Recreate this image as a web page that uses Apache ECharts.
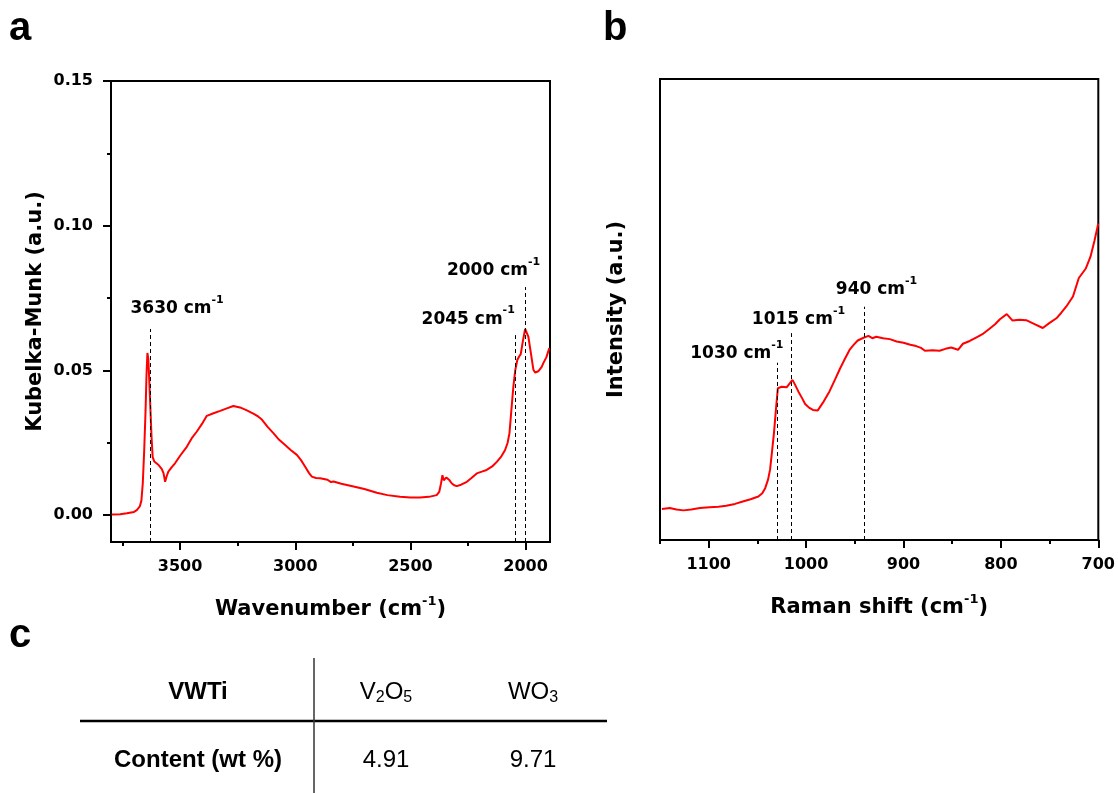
<!DOCTYPE html>
<html><head><meta charset="utf-8">
<script src="https://cdn.jsdelivr.net/npm/echarts@6/dist/echarts.min.js"></script>
<style>html,body{margin:0;padding:0;background:#fff}#c{width:1118px;height:793px}</style>
</head><body><div id="c"></div>
<script>
// ---------- data ----------
// Panel a: DRIFTS Kubelka-Munk spectrum [wavenumber (cm-1), KM (a.u.)]
const kmSpectrum = [
 [3797,0.0002],[3760,0.0003],[3731,0.0006],[3700,0.0011],[3688,0.0017],[3675,0.003],[3668,0.005],
 [3662,0.011],[3656,0.022],[3650,0.036],[3646,0.048],[3642,0.056],[3638,0.054],[3634,0.047],
 [3629,0.037],[3624,0.027],[3619,0.020],[3612,0.0185],[3604,0.019],[3596,0.0175],[3588,0.0178],
 [3580,0.016],[3572,0.0145],[3565,0.0115],[3558,0.0135],[3551,0.015],[3537,0.0165],[3522,0.0179],
 [3500,0.0205],[3471,0.0236],[3450,0.0265],[3428,0.0288],[3405,0.0315],[3384,0.0343],[3355,0.0352],
 [3326,0.036],[3300,0.0368],[3269,0.0377],[3240,0.0372],[3210,0.0362],[3180,0.0350],[3160,0.0340],
 [3145,0.0330],[3120,0.0305],[3095,0.0283],[3070,0.026],[3044,0.0242],[3020,0.0225],[2993,0.0208],
 [2975,0.019],[2957,0.0167],[2940,0.0145],[2928,0.0133],[2910,0.0128],[2892,0.0127],[2860,0.0122],
 [2845,0.0114],[2834,0.0116],[2800,0.0108],[2747,0.0099],[2700,0.009],[2646,0.0077],[2600,0.0069],
 [2545,0.0063],[2500,0.0061],[2458,0.0061],[2420,0.0063],[2386,0.0069],[2375,0.0080],[2367,0.0110],
 [2361,0.0138],[2355,0.0120],[2350,0.0115],[2344,0.0130],[2338,0.0135],[2330,0.0120],[2321,0.0110],
 [2310,0.0103],[2299,0.0100],[2280,0.0105],[2255,0.0115],[2235,0.0128],[2212,0.0144],[2190,0.0150],
 [2169,0.0156],[2145,0.0168],[2125,0.0184],[2105,0.0203],[2089,0.0225],[2078,0.0250],[2070,0.0283],
 [2062,0.0360],[2053,0.0444],[2045,0.0500],[2036,0.0536],[2028,0.0548],[2021,0.0556],[2012,0.0600],
 [2002,0.0643],[1995,0.0638],[1988,0.0617],[1977,0.0560],[1966,0.0502],[1958,0.0492],[1952,0.0490],
 [1945,0.0497],[1937,0.0496],[1930,0.0512],[1923,0.0525],[1910,0.0545],[1897,0.0577]
];
// Panel b: Raman spectrum [Raman shift (cm-1), intensity (a.u.)]
const ramanSpectrum = [
 [1148,7.1],[1140,7.3],[1133,7.0],[1126,6.8],[1118,7.0],[1109,7.3],[1099,7.5],[1090,7.6],[1082,7.8],
 [1073,8.2],[1065,8.7],[1057,9.2],[1049,9.8],[1045,10.5],[1042,11.6],[1039,13.5],[1037,15.6],
 [1035,19.5],[1033,23.5],[1031,28.5],[1029,33.2],[1025,33.5],[1020,33.4],[1017,34.2],[1014,35.0],
 [1011,33.8],[1008,32.5],[1004,31.0],[1001,29.8],[997,29.0],[993,28.5],[988,28.4],[982,30.3],
 [976,32.5],[970,35.2],[965,37.5],[960,39.6],[955,41.6],[951,42.6],[947,43.5],[941,44.1],[936,44.5],
 [932,44.0],[928,44.3],[921,44.0],[914,43.8],[907,43.3],[900,43.0],[893,42.6],[887,42.3],[882,41.9],
 [878,41.3],[870,41.4],[863,41.3],[857,41.7],[851,42.0],[844,41.5],[839,42.8],[832,43.4],[825,44.2],
 [818,45.0],[812,46.0],[806,47.0],[801,48.1],[794,49.2],[788,47.8],[781,48.0],[774,47.9],[766,47.1],
 [757,46.2],[750,47.3],[743,48.3],[738,49.5],[733,50.8],[726,53.0],[720,57.0],[713,59.0],[708,61.6],
 [704,65.0],[700,68.8]
];
const kmTicks = [0, 0.05, 0.10, 0.15];
const kmMinorTicks = [0.025, 0.075, 0.125];
const wavenumberTicks = [2000, 2500, 3000, 3500];
const wavenumberMinorTicks = [2250, 2750, 3250, 3750];
const ramanTicks = [700, 800, 900, 1000, 1100];
const ramanMinorTicks = [750, 850, 950, 1050, 1150];
const kmPeaks = [3630, 2045, 2000];
const kmPeakTops = [0.0643, 0.0622, 0.0788];
const ramanPeaks = [1030, 1015, 940];
const ramanPeakTops = [38.7, 45.1, 50.8];
const tableHeader = ['VWTi', '{m|V}{b|2}{m|O}{b|5}', '{m|WO}{b|3}'];
const tableRow = ['Content (wt %)', '4.91', '9.71'];
const panelLetters = ['a', 'b', 'c'];

// ---------- style ----------
const F = 'DejaVu Sans';
const kmLabelOffsets = [[27, -20.5], [-47, -16], [-32, -16]];
const ramanLabelOffsets = [[-40, -9], [7, -13.5], [12, -17]];
const A = {xMin: 1894, xMax: 3800, yMin: -0.0093, yMax: 0.15};
const B = {xMin: 700, xMax: 1150, yMin: 0.4, yMax: 100};

const titleRich = {
  t: {fontFamily: F, fontWeight: 'bold', fontSize: 21, lineHeight: 30, color: '#000'},
  s: {fontFamily: F, fontWeight: 'bold', fontSize: 13, lineHeight: 13, verticalAlign: 'top', color: '#000'}
};
const annRich = {
  t: {fontFamily: F, fontWeight: 'bold', fontSize: 17, lineHeight: 28, color: '#000'},
  s: {fontFamily: F, fontWeight: 'bold', fontSize: 11, lineHeight: 11, verticalAlign: 'top', color: '#000'}
};
const tickLabel = {fontFamily: F, fontWeight: 'bold', fontSize: 16, color: '#000'};

function xAxisMain(gi, r, ticks, name) {
  return {type: 'value', gridIndex: gi, min: r.xMin, max: r.xMax, inverse: true, position: 'bottom',
    name: name, nameLocation: 'middle', nameGap: 53, nameTextStyle: {rich: titleRich},
    axisLine: {show: true, onZero: false, lineStyle: {color: '#000', width: 2}},
    axisTick: {show: false},
    axisLabel: Object.assign({show: true, customValues: ticks, margin: 17, formatter: v => String(v)}, tickLabel),
    splitLine: {show: false}};
}
function xAxisTicks(gi, r, ticks, len) {
  return {type: 'value', gridIndex: gi, min: r.xMin, max: r.xMax, inverse: true, position: 'bottom',
    axisLine: {show: false, onZero: false}, axisLabel: {show: false}, splitLine: {show: false},
    axisTick: {show: true, inside: false, length: len, customValues: ticks, lineStyle: {color: '#000', width: 2}}};
}
function yAxisTicks(gi, r, ticks, len) {
  return {type: 'value', gridIndex: gi, min: r.yMin, max: r.yMax, position: 'left',
    axisLine: {show: false, onZero: false}, axisLabel: {show: false}, splitLine: {show: false},
    axisTick: {show: true, inside: false, length: len, customValues: ticks, lineStyle: {color: '#000', width: 2}}};
}

function annotations(peaks, tops, offsets, yMin) {
  return {
    markLine: {silent: true, symbol: ['none', 'none'], animation: false,
      label: {show: false}, lineStyle: {type: [4, 3], color: '#000', width: 1},
      data: peaks.map((p, i) => [{coord: [p, yMin]}, {coord: [p, tops[i]]}])},
    markPoint: {silent: true, symbol: 'circle', symbolSize: 0, animation: false,
      data: peaks.map((p, i) => ({coord: [p, tops[i]],
        label: {show: true, position: 'inside', offset: offsets[i],
          formatter: '{t|' + p + ' cm}{s|-1}', rich: annRich}}))}
  };
}

const chart = echarts.init(document.getElementById('c'), null, {renderer: 'canvas'});

const cellRich = {
  m: {fontFamily: 'Liberation Sans', fontSize: 24, lineHeight: 28, color: '#000'},
  b: {fontFamily: 'Liberation Sans', fontSize: 16, lineHeight: 16, verticalAlign: 'bottom', color: '#000'}
};
const colX = [198, 386, 533];
const rowY = [692, 760];
function cell(text, x, y, bold) {
  const t = text.indexOf('{') === 0 ? text : '{m|' + text + '}';
  return {type: 'text', x: x, y: y, silent: true,
    style: {text: t, align: 'center', verticalAlign: 'middle',
      rich: bold ? {m: Object.assign({}, cellRich.m, {fontWeight: 'bold'})} : cellRich}};
}
const letterPos = [[9, 29], [603, 29], [9, 636]];
const graphics = panelLetters.map((l, i) => ({type: 'text', x: letterPos[i][0], y: letterPos[i][1], silent: true,
  style: {text: l, font: 'bold 40px "Liberation Sans"', fill: '#000', verticalAlign: 'middle'}}));
graphics.push({type: 'line', silent: true, shape: {x1: 80, y1: 721, x2: 607, y2: 721}, style: {stroke: '#000', lineWidth: 2.5}});
graphics.push({type: 'line', silent: true, shape: {x1: 314, y1: 658, x2: 314, y2: 793}, style: {stroke: '#333', lineWidth: 1.5}});
tableHeader.forEach((h, i) => graphics.push(cell(h, colX[i], rowY[0], i === 0)));
tableRow.forEach((h, i) => graphics.push(cell(h, colX[i], rowY[1], i === 0)));

chart.setOption({
  animation: false,
  backgroundColor: '#fff',
  grid: [
    {left: 111, top: 81, width: 439, height: 461, show: true, borderColor: '#000', borderWidth: 2, backgroundColor: 'transparent'},
    {left: 660, top: 79, width: 440, height: 461, show: true, borderColor: '#000', borderWidth: 2, backgroundColor: 'transparent'}
  ],
  xAxis: [
    xAxisMain(0, A, wavenumberTicks, '{t|Wavenumber (cm}{s|-1}{t|)}'),
    xAxisTicks(0, A, wavenumberTicks, 8),
    xAxisTicks(0, A, wavenumberMinorTicks, 4),
    xAxisMain(1, B, ramanTicks, '{t|Raman shift (cm}{s|-1}{t|)}'),
    xAxisTicks(1, B, ramanTicks, 8),
    xAxisTicks(1, B, ramanMinorTicks, 4)
  ],
  yAxis: [
    {type: 'value', gridIndex: 0, min: A.yMin, max: A.yMax, position: 'left',
      name: '{t|Kubelka-Munk (a.u.)}', nameLocation: 'middle', nameGap: 60, nameTextStyle: {rich: titleRich},
      axisLine: {show: true, onZero: false, lineStyle: {color: '#000', width: 2}},
      axisTick: {show: false},
      axisLabel: Object.assign({show: true, customValues: kmTicks, margin: 18, formatter: v => v.toFixed(2)}, tickLabel),
      splitLine: {show: false}},
    yAxisTicks(0, A, kmTicks, 8),
    yAxisTicks(0, A, kmMinorTicks, 4),
    {type: 'value', gridIndex: 1, min: B.yMin, max: B.yMax, position: 'left',
      name: '{t|Intensity (a.u.)}', nameLocation: 'middle', nameGap: 28, nameTextStyle: {rich: titleRich},
      axisLine: {show: true, onZero: false, lineStyle: {color: '#000', width: 2}},
      axisTick: {show: false}, axisLabel: {show: false}, splitLine: {show: false}}
  ],
  series: [
    Object.assign({type: 'line', name: 'DRIFTS', xAxisIndex: 0, yAxisIndex: 0, data: kmSpectrum,
      showSymbol: false, symbol: 'none', lineStyle: {color: '#ff0000', width: 2}, itemStyle: {color: '#ff0000'}},
      annotations(kmPeaks, kmPeakTops, kmLabelOffsets, A.yMin)),
    Object.assign({type: 'line', name: 'Raman', xAxisIndex: 3, yAxisIndex: 3, data: ramanSpectrum,
      showSymbol: false, symbol: 'none', lineStyle: {color: '#ff0000', width: 2}, itemStyle: {color: '#ff0000'}},
      annotations(ramanPeaks, ramanPeakTops, ramanLabelOffsets, B.yMin))
  ],
  graphic: graphics
});
</script>
</body></html>
